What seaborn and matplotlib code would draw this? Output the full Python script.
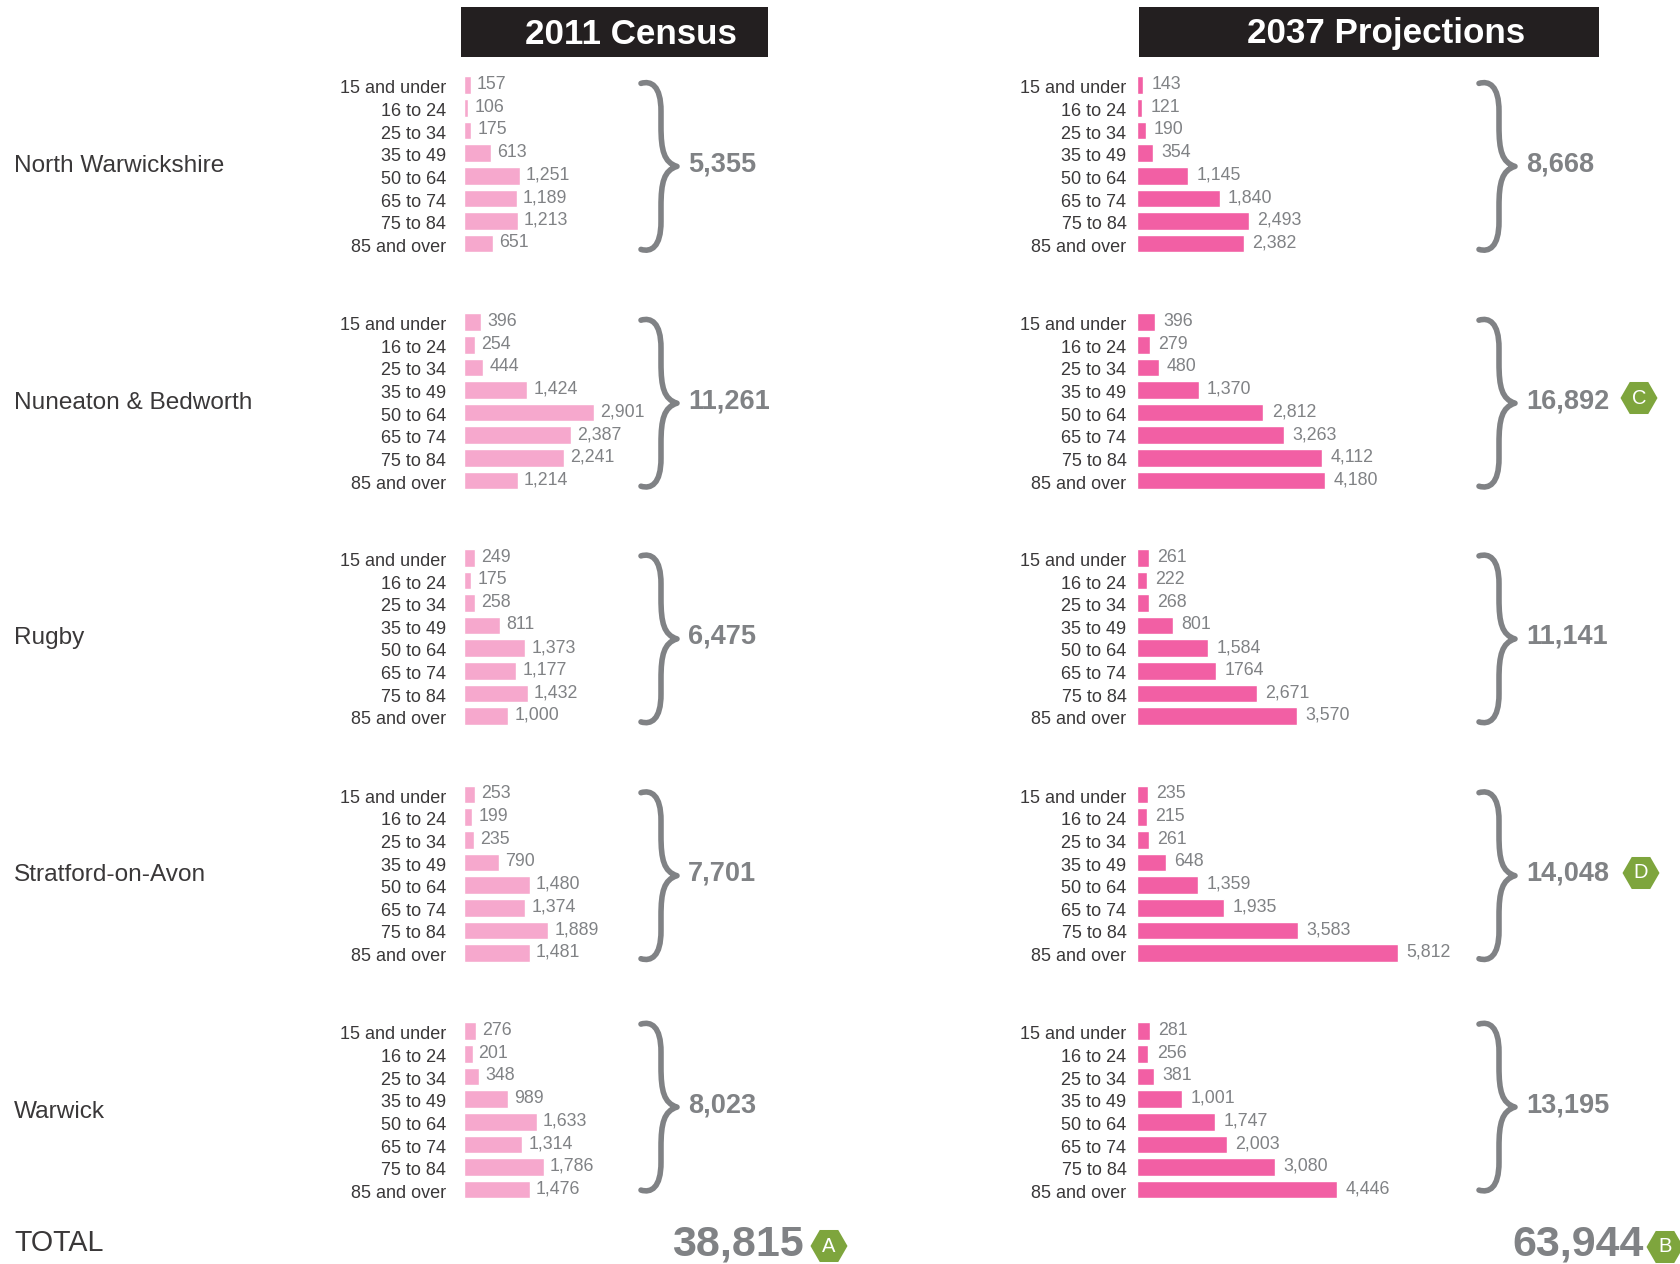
import matplotlib
matplotlib.use("Agg")
import matplotlib.pyplot as plt
import numpy as np
import pandas as pd
import seaborn as sns
from matplotlib.patches import PathPatch, Rectangle, RegularPolygon
from matplotlib.path import Path
from matplotlib.transforms import ScaledTranslation

sns.set_theme(style="white")
plt.rcParams["font.family"] = ["Liberation Sans", "DejaVu Sans"]

# Residents by district and age band
age_bands = ["15 and under", "16 to 24", "25 to 34", "35 to 49",
             "50 to 64", "65 to 74", "75 to 84", "85 and over"]
districts = ["North Warwickshire", "Nuneaton & Bedworth", "Rugby",
             "Stratford-on-Avon", "Warwick"]

census_north = [157, 106, 175, 613, 1251, 1189, 1213, 651]
census_nuneaton = [396, 254, 444, 1424, 2901, 2387, 2241, 1214]
census_rugby = [249, 175, 258, 811, 1373, 1177, 1432, 1000]
census_stratford = [253, 199, 235, 790, 1480, 1374, 1889, 1481]
census_warwick = [276, 201, 348, 989, 1633, 1314, 1786, 1476]

proj_north = [143, 121, 190, 354, 1145, 1840, 2493, 2382]
proj_nuneaton = [396, 279, 480, 1370, 2812, 3263, 4112, 4180]
proj_rugby = [261, 222, 268, 801, 1584, 1764, 2671, 3570]
proj_stratford = [235, 215, 261, 648, 1359, 1935, 3583, 5812]
proj_warwick = [281, 256, 381, 1001, 1747, 2003, 3080, 4446]

# The 1764 label carries no thousands separator in the source table
proj_rugby_labels = ["261", "222", "268", "801", "1,584", "1764", "2,671", "3,570"]

census_totals = ["5,355", "11,261", "6,475", "7,701", "8,023"]
proj_totals = ["8,668", "16,892", "11,141", "14,048", "13,195"]
census_grand_total = "38,815"
proj_grand_total = "63,944"

census_values = [census_north, census_nuneaton, census_rugby, census_stratford, census_warwick]
proj_values = [proj_north, proj_nuneaton, proj_rugby, proj_stratford, proj_warwick]

W, H = 1680, 1264
PX_PER_UNIT = 0.0449
ROW_PX = 22.62
GROUP_TOPS = [74.0, 310.8, 546.5, 783.3, 1020.0]
BRACE_SHIFT = [0.4, 0.4, 0.4, 0.4, -4.9]
LEFT_CENSUS, LEFT_PROJ = 463.5, 1137
AXES_WIDTH = 300

CENSUS_PINK = "#f6a8cd"
PROJ_PINK = "#f25fa4"
GREY = "#808285"
INK = "#3a3839"
HEADER = "#231f20"
GREEN = "#7ea53d"

fig = plt.figure(figsize=(W / 100, H / 100), dpi=100, facecolor="white")

# Pixel-addressed layer for headers, braces, totals and badges
canvas = fig.add_axes([0, 0, 1, 1], zorder=3)
canvas.set_xlim(0, W)
canvas.set_ylim(H, 0)
canvas.axis("off")


def panel(left, top, values, colour, gap, tick_pad, labels=None):
    height = ROW_PX * len(age_bands)
    ax = fig.add_axes([left / W, 1 - (top + height) / H, AXES_WIDTH / W, height / H])
    frame = pd.DataFrame({"age": age_bands, "people": values})
    sns.barplot(data=frame, y="age", x="people", color=colour, saturation=1,
                width=0.78, ax=ax, orient="h")
    ax.set_xlim(0, AXES_WIDTH / PX_PER_UNIT)
    ax.set_ylim(len(age_bands) - 0.5, -0.5)
    ax.set(xlabel="", ylabel="", xticks=[])
    ax.patch.set_alpha(0)
    sns.despine(ax=ax, left=True, bottom=True)
    ax.tick_params(axis="y", length=0, pad=tick_pad, labelsize=13, labelcolor=INK)
    # Age labels sit a little below the bar centre line
    nudge = ScaledTranslation(0, -1.6 / 100, fig.dpi_scale_trans)
    for tick in ax.get_yticklabels():
        tick.set_transform(tick.get_transform() + nudge)
    texts = labels if labels is not None else [f"{v:,}" for v in values]
    ax.bar_label(ax.containers[0], labels=texts, padding=gap * 0.72, fontsize=12.8,
                 color=GREY)
    for t in ax.texts:
        t.set_verticalalignment("center")
        t.xyann = (t.xyann[0], 0.5)
    return ax


def brace(x0, y0, y1):
    """Right-facing curly brace spanning y0 to y1, with its tip at mid height."""
    xs = x0 + 20
    tip = x0 + 36
    mid = (y0 + y1) / 2
    verts = [
        (x0, y0), (x0 + 10, y0 - 3), (xs, y0 + 2), (xs, y0 + 28),
        (xs, mid - 40),
        (xs, mid - 16), (xs + 3, mid - 4), (tip, mid),
        (xs + 3, mid + 4), (xs, mid + 16), (xs, mid + 40),
        (xs, y1 - 28),
        (xs, y1 - 2), (x0 + 10, y1 + 3), (x0, y1),
    ]
    codes = [Path.MOVETO, Path.CURVE4, Path.CURVE4, Path.CURVE4,
             Path.LINETO,
             Path.CURVE4, Path.CURVE4, Path.CURVE4,
             Path.CURVE4, Path.CURVE4, Path.CURVE4,
             Path.LINETO,
             Path.CURVE4, Path.CURVE4, Path.CURVE4]
    canvas.add_patch(PathPatch(Path(verts, codes), fill=False, edgecolor=GREY,
                               linewidth=4, capstyle="round", joinstyle="round"))


def badge(cx, cy, letter):
    canvas.add_patch(RegularPolygon((cx, cy), 6, radius=18.5, orientation=np.pi / 6,
                                    facecolor=GREEN, edgecolor="none"))
    canvas.text(cx, cy, letter, color="white", fontsize=14.5, ha="center", va="center")


# Column headers
for x0, x1, title, tx in [(461, 768, "2011 Census", 631), (1139, 1599, "2037 Projections", 1386)]:
    canvas.add_patch(Rectangle((x0, 7), x1 - x0, 50, facecolor=HEADER, edgecolor="none"))
    canvas.text(tx, 34, title, color="white", fontsize=25.2, fontweight="bold",
                ha="center", va="center")

for i, top in enumerate(GROUP_TOPS):
    panel(LEFT_CENSUS, top, census_values[i], CENSUS_PINK, 6, 12.5)
    labels = proj_rugby_labels if districts[i] == "Rugby" else None
    panel(LEFT_PROJ, top, proj_values[i], PROJ_PINK, 8.5, 7.6, labels)

    centre = top + ROW_PX * 4
    canvas.text(14, centre + 1.5, districts[i], fontsize=17.55, color=INK, ha="left", va="center")
    brace_top = top + BRACE_SHIFT[i]
    brace(641, brace_top + 9, brace_top + 175)
    brace(1479, brace_top + 9, brace_top + 175)
    canvas.text(688, brace_top + 90, census_totals[i], fontsize=19.5, fontweight="bold",
                color=GREY, ha="left", va="center")
    canvas.text(1526, brace_top + 90, proj_totals[i], fontsize=19.5, fontweight="bold",
                color=GREY, ha="left", va="center")

badge(1639, 398, "C")
badge(1641, 873, "D")

canvas.text(14, 1243, "TOTAL", fontsize=20.6, color=INK, ha="left", va="center")
canvas.text(804, 1244, census_grand_total, fontsize=31, fontweight="bold", color=GREY,
            ha="right", va="center")
canvas.text(1644, 1245, proj_grand_total, fontsize=31, fontweight="bold", color=GREY,
            ha="right", va="center")
badge(829, 1246, "A")
badge(1665, 1247, "B")

fig.savefig("out.png", dpi=100, facecolor="white")
